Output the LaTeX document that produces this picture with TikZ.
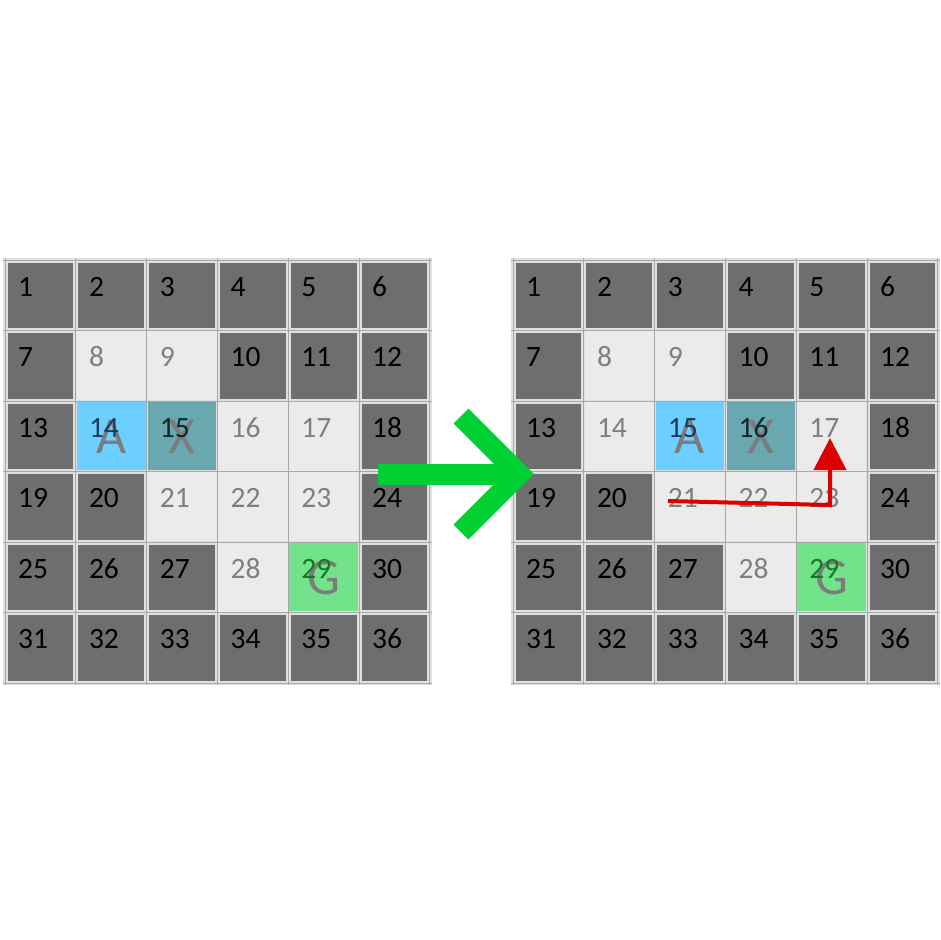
\documentclass[tikz,border=0pt]{standalone}
\usepackage{fontspec}
\setmainfont{Carlito}
\usetikzlibrary{arrows.meta}
\definecolor{dkgray}{HTML}{6E6E6E}
\definecolor{ltgray}{HTML}{EBEBEB}
\definecolor{gridbg}{HTML}{E0E0E0}
\definecolor{gridline}{HTML}{A8A8A8}
\definecolor{agentblue}{HTML}{6DCFFF}
\definecolor{boxteal}{HTML}{6AA8B0}
\definecolor{goalgreen}{HTML}{72E38A}
\definecolor{arrowgreen}{HTML}{00D032}
\definecolor{pathred}{HTML}{DD0000}
\definecolor{lightnum}{HTML}{7F7F7F}
\definecolor{letgray}{HTML}{7C7C7C}
\newcommand{\sx}{70.8}
\newcommand{\sy}{70.5}
\tikzset{
  basecell/.style={inner sep=0pt, draw=none},
  dk cell/.style={basecell, fill=dkgray, minimum width=65.8pt, minimum height=65.5pt},
  lt cell/.style={basecell, fill=ltgray, minimum width=69.4pt, minimum height=69.1pt},
  ag cell/.style={basecell, fill=agentblue, minimum width=68.6pt, minimum height=68.3pt},
  bx cell/.style={basecell, fill=boxteal, minimum width=68.6pt, minimum height=68.3pt},
  gl cell/.style={basecell, fill=goalgreen, minimum width=68.6pt, minimum height=68.3pt},
  basenum/.style={anchor=base west, inner sep=0pt, font=\fontsize{29.5}{31}\selectfont},
  dk num/.style={basenum, text=black},
  lt num/.style={basenum, text=lightnum},
  ag num/.style={basenum, text={rgb,255:red,25;green,60;blue,90}},
  bx num/.style={basenum, text={rgb,255:red,14;green,40;blue,48}},
  gl num/.style={basenum, text={rgb,255:red,22;green,120;blue,38}},
  letter/.style={inner sep=0pt, text=letgray, font=\fontsize{52}{54}\selectfont},
  greenarrow/.style={draw=arrowgreen, line width=21pt, line cap=butt, line join=miter},
  redpath/.style={draw=pathred, line width=4pt, line join=miter, -{Triangle[length=32pt,width=32pt]}}
}
\newcommand{\mygrid}[4]{%
  \fill[gridbg] (#2-2,#3-2) rectangle (#2+6*\sx+2,#3+6*\sy+2);
  \foreach \k in {0,...,6} {
    \draw[gridline, line width=0.9pt] (#2+\k*\sx,#3-2) -- (#2+\k*\sx,#3+6*\sy+2);
    \draw[gridline, line width=0.9pt] (#2-2,#3+\k*\sy) -- (#2+6*\sx+2,#3+\k*\sy);
  }
  \foreach \n/\s in {#4} {
    \pgfmathsetmacro\cx{#2+(mod(\n-1,6)+0.5)*\sx}
    \pgfmathsetmacro\cy{#3+(int((\n-1)/6)+0.5)*\sy}
    \node[\s\space cell] (#1\n) at (\cx,\cy) {};
  }
}
\newcommand{\mynums}[4]{%
  \foreach \n/\s in {#4} {
    \pgfmathsetmacro\nx{#2+mod(\n-1,6)*\sx+13}
    \pgfmathsetmacro\ny{#3+int((\n-1)/6)*\sy+36}
    \node[\s\space num] (#1n\n) at (\nx,\ny) {\n};
  }
}
\begin{document}
\begin{tikzpicture}[x=1pt,y=-1pt]
\useasboundingbox (0,0) rectangle (940,940);
\fill[white] (0,0) rectangle (940,940);
% left grid
\mygrid{L}{5}{260}{1/dk,2/dk,3/dk,4/dk,5/dk,6/dk,7/dk,8/lt,9/lt,10/dk,11/dk,12/dk,13/dk,14/ag,15/bx,16/lt,17/lt,18/dk,19/dk,20/dk,21/lt,22/lt,23/lt,24/dk,25/dk,26/dk,27/dk,28/lt,29/gl,30/dk,31/dk,32/dk,33/dk,34/dk,35/dk,36/dk}
\node[letter] (LA) at ([yshift=-1pt]L14) {A};
\node[letter] (LX) at ([yshift=-1pt]L15) {X};
\node[letter] (LG) at ([yshift=-1pt]L29) {G};
\mynums{L}{5}{260}{1/dk,2/dk,3/dk,4/dk,5/dk,6/dk,7/dk,8/lt,9/lt,10/dk,11/dk,12/dk,13/dk,14/ag,15/bx,16/lt,17/lt,18/dk,19/dk,20/dk,21/lt,22/lt,23/lt,24/dk,25/dk,26/dk,27/dk,28/lt,29/gl,30/dk,31/dk,32/dk,33/dk,34/dk,35/dk,36/dk}
% right grid
\mygrid{R}{513}{260}{1/dk,2/dk,3/dk,4/dk,5/dk,6/dk,7/dk,8/lt,9/lt,10/dk,11/dk,12/dk,13/dk,14/lt,15/ag,16/bx,17/lt,18/dk,19/dk,20/dk,21/lt,22/lt,23/lt,24/dk,25/dk,26/dk,27/dk,28/lt,29/gl,30/dk,31/dk,32/dk,33/dk,34/dk,35/dk,36/dk}
\node[letter] (RA) at ([yshift=-1pt]R15) {A};
\node[letter] (RX) at ([yshift=-1pt]R16) {X};
\node[letter] (RG) at ([yshift=-1pt]R29) {G};
\mynums{R}{513}{260}{1/dk,2/dk,3/dk,4/dk,5/dk,6/dk,7/dk,8/lt,9/lt,10/dk,11/dk,12/dk,13/dk,14/lt,15/ag,16/bx,17/lt,18/dk,19/dk,20/dk,21/lt,22/lt,23/lt,24/dk,25/dk,26/dk,27/dk,28/lt,29/gl,30/dk,31/dk,32/dk,33/dk,34/dk,35/dk,36/dk}
% green arrow
\coordinate (g0) at (378,474);
\coordinate (gt) at (519,474);
\coordinate (gu) at (461,416);
\coordinate (gd) at (461,532);
\draw[greenarrow] (g0) -- ([xshift=-8pt]gt);
\draw[greenarrow] (gu) -- (gt) -- (gd);
% red path
\coordinate (r0) at (668,501);
\coordinate (r1) at (830,505);
\coordinate (r2) at (830,438);
\draw[redpath] (r0) -- (r1) -- (r2);
\end{tikzpicture}
\end{document}
